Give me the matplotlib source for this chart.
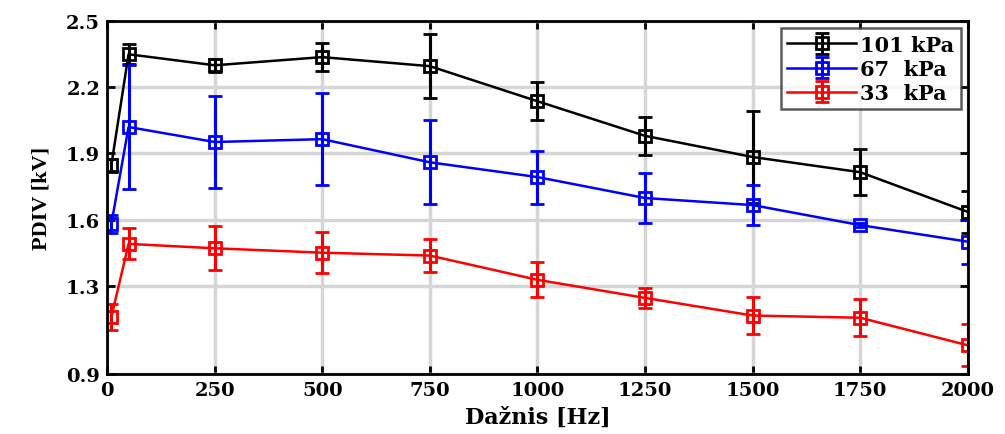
import matplotlib
matplotlib.use("Agg")
import matplotlib.pyplot as plt

# frequency points [Hz]
freq = [10, 50, 250, 500, 750, 1000, 1250, 1500, 1750, 2000]

# PDIV [kV] and error bars
pdiv_101 = [1.847, 2.35, 2.30, 2.337, 2.296, 2.137, 1.98, 1.884, 1.815, 1.635]
err_101 = [0.03, 0.045, 0.03, 0.065, 0.145, 0.085, 0.085, 0.21, 0.105, 0.095]

pdiv_67 = [1.58, 2.02, 1.952, 1.965, 1.86, 1.793, 1.698, 1.666, 1.575, 1.50]
err_67 = [0.04, 0.28, 0.21, 0.21, 0.19, 0.12, 0.115, 0.09, 0.01, 0.1]

pdiv_33 = [1.158, 1.49, 1.47, 1.45, 1.437, 1.327, 1.245, 1.165, 1.155, 1.03]
err_33 = [0.06, 0.07, 0.1, 0.093, 0.075, 0.08, 0.045, 0.085, 0.085, 0.095]

labels = ["101 kPa", "67  kPa", "33  kPa"]
colors = ["black", "#0000ff", "#ff0000"]

xticks = [0, 250, 500, 750, 1000, 1250, 1500, 1750, 2000]
yticks = [0.9, 1.3, 1.6, 1.9, 2.2, 2.5]

# wide bold serif looks closest to the (stretched) original
plt.rcParams["font.family"] = ["DejaVu Serif"]
plt.rcParams["font.weight"] = "bold"

fig = plt.figure(figsize=(10.05, 4.35), dpi=100)
ax = fig.add_axes([0.1065, 0.138, 0.8565, 0.811])

series = [(pdiv_101, err_101), (pdiv_67, err_67), (pdiv_33, err_33)]
for (y, e), lab, c in zip(series, labels, colors):
    ax.errorbar(freq, y, yerr=e, color=c, marker="s", markersize=8,
                markerfacecolor="none", markeredgewidth=2, linewidth=1.8,
                elinewidth=2.2, capsize=5, capthick=2, label=lab)

ax.set_xlim(0, 2000)
ax.set_ylim(0.9, 2.5)
ax.set_xticks(xticks)
ax.set_yticks(yticks)
ax.set_yticklabels([f"{v:.1f}" for v in yticks])
ax.grid(True, color="#d6d6d6", linewidth=2.5)
ax.set_axisbelow(True)

ax.tick_params(direction="in", top=True, right=True, length=6, width=2,
               labelsize=14, pad=5)
for s in ax.spines.values():
    s.set_linewidth(2)

ax.set_xlabel("Dažnis [Hz]", fontsize=16, fontweight="bold", labelpad=5)
ax.set_ylabel("PDIV [kV]", fontsize=16, fontweight="bold", labelpad=10,
              family="Liberation Serif")

leg = ax.legend(loc="upper right", fontsize=15, frameon=True, fancybox=False,
                edgecolor="#333333", borderpad=0.3, labelspacing=0.2,
                handlelength=3.3, handletextpad=0.2, borderaxespad=0.35)
leg.get_frame().set_linewidth(1.8)

fig.savefig("out.png", dpi=100)
